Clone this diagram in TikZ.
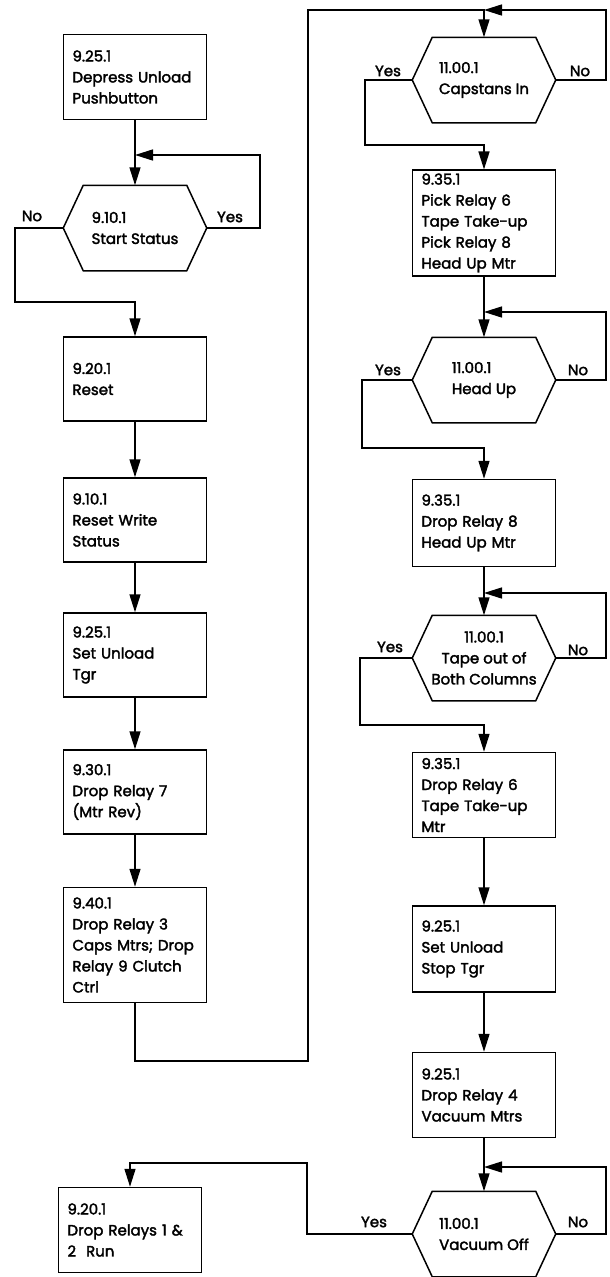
\documentclass[tikz,border=0pt]{standalone}
\usepackage{fontspec}
\setmainfont{Poppins}[RawFeature={embolden=2.2}]
\usetikzlibrary{arrows.meta}
\tikzset{
  >={Triangle[length=18pt,width=11pt]},
  stepbox/.style={draw, align=left, text width=125pt, inner xsep=9pt,
    minimum height=#1, font=\fontsize{15}{21}\selectfont},
  stepbox/.default=84pt,
  decision/.style={minimum width=142pt, minimum height=84pt,
    inner sep=0pt, align=left, font=\fontsize{15}{21}\selectfont},
  answer/.style={font=\fontsize{15}{17}\selectfont}
}
\begin{document}
\begin{tikzpicture}[x=1pt,y=-1pt,line width=1.5pt]
\useasboundingbox (0,0) rectangle (610,1277);
% left column
\node[stepbox=85pt] (push) at (135,77) {9.25.1\\Depress Unload\\Pushbutton};
\node[decision] (start) at (135,228) {9.10.1\\Start Status};
\node[stepbox] (reset) at (135,379) {9.20.1\\Reset};
\node[stepbox] (rws) at (135,520) {9.10.1\\Reset Write\\Status};
\node[stepbox] (sut) at (135,655) {9.25.1\\Set Unload\\Tgr};
\node[stepbox] (dr7) at (135,792) {9.30.1\\Drop Relay 7\\(Mtr Rev)};
\node[stepbox=115pt] (dr3) at (135,945) {9.40.1\\Drop Relay 3\\Caps Mtrs; Drop\\Relay 9 Clutch\\Ctrl};
\node[stepbox=85pt] (run) at (130,1230) {9.20.1\\Drop Relays 1 \&\\2\ \ Run};
% right column
\node[decision] (caps) at (484,80) {11.00.1\\Capstans In};
\node[stepbox=103pt] (pick) at (484,223) {9.35.1\\Pick Relay 6\\Tape Take-up\\Pick Relay 8\\Head Up Mtr};
\node[decision] (head) at (484,380) {11.00.1\\Head Up};
\node[stepbox=87pt] (dr8) at (484,523) {9.35.1\\Drop Relay 8\\Head Up Mtr};
\node[decision, align=center] (tape) at (484,658) {11.00.1\\Tape out of\\Both Columns};
\node[stepbox=85pt] (dr6) at (484,795) {9.35.1\\Drop Relay 6\\Tape Take-up\\Mtr};
\node[stepbox=86pt] (sust) at (484,949) {9.25.1\\Set Unload\\Stop Tgr};
\node[stepbox=85pt] (vac) at (484,1095) {9.25.1\\Drop Relay 4\\Vacuum Mtrs};
\node[decision] (voff) at (484,1234) {11.00.1\\Vacuum Off};
% hexagon outlines
\foreach \d in {start,caps,head,tape,voff}
  \draw (\d.west) -- ([xshift=20pt]\d.north west) -- ([xshift=-20pt]\d.north east)
    -- (\d.east) -- ([xshift=-20pt]\d.south east) -- ([xshift=20pt]\d.south west) -- cycle;
% yes / no
\node[answer] (start_yes) at (230,217) {Yes};
\node[answer] (start_no) at (32,216) {No};
\node[answer] (caps_yes) at (388,71) {Yes};
\node[answer] (caps_no) at (580,71) {No};
\node[answer] (head_yes) at (388,370) {Yes};
\node[answer] (head_no) at (578,370) {No};
\node[answer] (tape_yes) at (390,647) {Yes};
\node[answer] (tape_no) at (578,650) {No};
\node[answer] (voff_yes) at (374,1222) {Yes};
\node[answer] (voff_no) at (578,1222) {No};
% flow
\draw[->] (push) -- (start);
\draw[->] (start.east) -| (260,155) -- (start.north |- 0,155);
\draw[->] (start.west) -| (15,302) -| (reset.north);
\draw[->] (reset) -- (rws);
\draw[->] (rws) -- (sut);
\draw[->] (sut) -- (dr7);
\draw[->] (dr7) -- (dr3);
\draw[->] (dr3.south) |- (308,1061) -- (308,10) -| (caps.north);
\draw[->] (caps.east) -| (606,10) -- (caps.north |- 0,10);
\draw[->] (caps.west) -| (365,145) -| (pick.north);
\draw[->] (pick) -- (head);
\draw[->] (head.east) -| (606,312) -- (head.north |- 0,312);
\draw[->] (head.west) -| (362,448) -| (dr8.north);
\draw[->] (dr8) -- (tape);
\draw[->] (tape.east) -| (606,593) -- (tape.north |- 0,593);
\draw[->] (tape.west) -| (360,725) -| (dr6.north);
\draw[->] (dr6) -- (sust);
\draw[->] (sust) -- (vac);
\draw[->] (vac) -- (voff);
\draw[->] (voff.east) -| (606,1167) -- (voff.north |- 0,1167);
\draw[->] (voff.west) -| (307,1163) -| (run.north);
\end{tikzpicture}
\end{document}
